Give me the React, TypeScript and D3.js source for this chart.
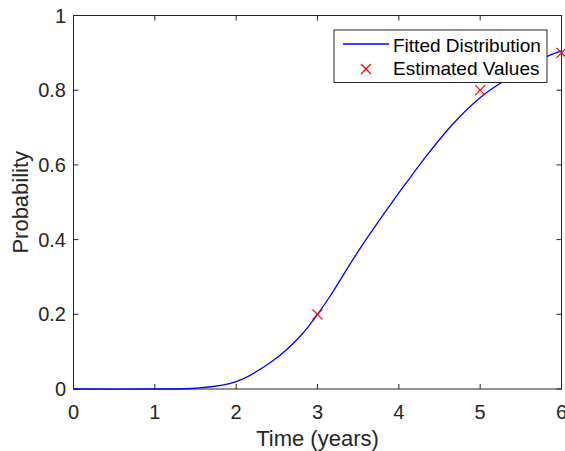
import React from 'react';
import * as d3 from 'd3';

// points
const curveX = [0, 1, 1.5, 2, 2.46, 2.79, 3, 3.15, 3.52, 4, 4.14, 4.3, 4.67, 5.04, 5.5, 5.82, 6];
const curveY = [0, 0, 0.002, 0.02, 0.077, 0.142, 0.2, 0.247, 0.375, 0.525, 0.566, 0.613, 0.711, 0.787, 0.852, 0.89, 0.905];

const estX = [3, 5, 6];
const estY = [0.2, 0.8, 0.9];

const xTicks = [0, 1, 2, 3, 4, 5, 6];
const yTicks = [0, 0.2, 0.4, 0.6, 0.8, 1];

const legendLabels = ['Fitted Distribution', 'Estimated Values'];

const W = 565;
const H = 451;
const axisColor = '#262626';
const font = '"Liberation Sans", Arial, sans-serif';

const App = () => {
  const x = d3.scaleLinear().domain([0, 6]).range([73.5, 561.5]);
  const y = d3.scaleLinear().domain([0, 1]).range([389, 15.5]);

  const line = d3.line<number>()
    .x((d, i) => x(curveX[i]))
    .y(d => y(d))
    .curve(d3.curveCatmullRom.alpha(0.5));

  const [x0, x1] = x.range();
  const [y0, y1] = y.range();
  const tick = 5;
  const cross = 5;

  return (
    <svg width={W} height={H} style={{ position: 'absolute', left: 0, top: 0, background: '#fff' }}
      fontFamily={font}>
      <rect x={0} y={0} width={W} height={H} fill="#fff" />

      {/* axes box */}
      <rect x={x0} y={y1} width={x1 - x0} height={y0 - y1} fill="#fff" stroke={axisColor} strokeWidth={1} />

      {xTicks.map(t => (
        <g key={'x' + t}>
          <line x1={x(t)} x2={x(t)} y1={y0} y2={y0 - tick} stroke={axisColor} />
          <line x1={x(t)} x2={x(t)} y1={y1} y2={y1 + tick} stroke={axisColor} />
          <text x={x(t)} y={419} textAnchor="middle" fontSize={20} fill={axisColor}>{t}</text>
        </g>
      ))}
      {yTicks.map(t => (
        <g key={'y' + t}>
          <line x1={x0} x2={x0 + tick} y1={y(t)} y2={y(t)} stroke={axisColor} />
          <line x1={x1} x2={x1 - tick} y1={y(t)} y2={y(t)} stroke={axisColor} />
          <text x={66} y={y(t)} dy="0.35em" textAnchor="end" fontSize={20} fill={axisColor}>{t}</text>
        </g>
      ))}

      <path d={line(curveY) || ''} fill="none" stroke="#0000ff" strokeWidth={1.3} />

      {estX.map((v, i) => {
        const cx = x(v);
        const cy = y(estY[i]);
        return (
          <g key={'m' + i} stroke="#ff0000" strokeWidth={1.2}>
            <line x1={cx - cross} y1={cy - cross} x2={cx + cross} y2={cy + cross} />
            <line x1={cx - cross} y1={cy + cross} x2={cx + cross} y2={cy - cross} />
          </g>
        );
      })}

      {/* axis labels */}
      <text x={(x0 + x1) / 2} y={446} textAnchor="middle" fontSize={22} fill={axisColor}>Time (years)</text>
      <text transform={`translate(28,${(y0 + y1) / 2}) rotate(-90)`} textAnchor="middle" fontSize={22} fill={axisColor}>Probability</text>

      {/* legend */}
      <rect x={334} y={30} width={213} height={52.5} fill="#fff" stroke={axisColor} strokeWidth={1} />
      <line x1={343} x2={389} y1={44} y2={44} stroke="#0000ff" strokeWidth={1.3} />
      <g stroke="#ff0000" strokeWidth={1.2}>
        <line x1={366 - cross} y1={69 - cross} x2={366 + cross} y2={69 + cross} />
        <line x1={366 - cross} y1={69 + cross} x2={366 + cross} y2={69 - cross} />
      </g>
      <text x={393} y={51.5} fontSize={19} fill="#000">{legendLabels[0]}</text>
      <text x={393} y={75} fontSize={19} fill="#000">{legendLabels[1]}</text>
    </svg>
  );
};

export default App;
